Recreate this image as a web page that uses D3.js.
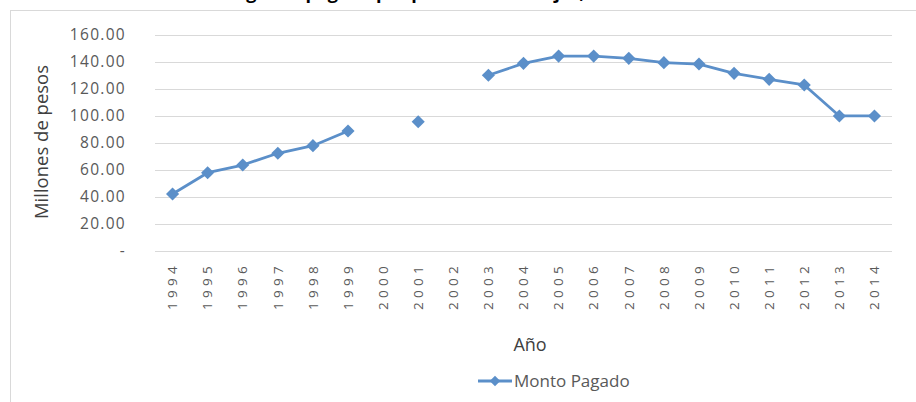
<!DOCTYPE html>
<html>
<head>
<meta charset="utf-8">
<script src="https://cdn.jsdelivr.net/npm/d3@7"></script>
<style>
  body { margin: 0; background: #fff; }
  svg { display: block; font-family: "Open Sans", sans-serif; }
</style>
</head>
<body>
<svg id="chart" width="916" height="402"></svg>
<script>
// chart data
var years = ["1994","1995","1996","1997","1998","1999","2000","2001","2002","2003","2004",
             "2005","2006","2007","2008","2009","2010","2011","2012","2013","2014"];
var montoPagado = [42.2, 57.9, 63.6, 72.3, 77.9, 88.8, null, 95.6, null, 130.0, 138.8,
                   144.2, 144.2, 142.5, 139.3, 138.3, 131.4, 127.0, 122.8, 99.9, 99.9];
var yTicks = [0, 20, 40, 60, 80, 100, 120, 140, 160];

var blue = "#5b8fc9", grey = "#595959";
var svg = d3.select("#chart");

// chart frame
svg.append("rect")
    .attr("x", 10.5).attr("y", 10.5).attr("width", 930).attr("height", 420)
    .attr("fill", "#fff").attr("stroke", "#d9d9d9");

// title (cut off by the top edge, only descenders show)
svg.append("text")
    .attr("x", 430).attr("y", -1.5)
    .attr("text-anchor", "middle")
    .attr("font-weight", "bold").attr("font-size", 18)
    .text("Monto global pagado por pensiones de vejez, 1994-2014");

var x = d3.scaleBand().domain(years).range([155, 892]);
var y = d3.scaleLinear().domain([0, 160]).range([251, 34.7]);

// grid lines
svg.append("g").selectAll("line").data(yTicks).enter().append("line")
    .attr("x1", 155).attr("x2", 892)
    .attr("y1", d => Math.round(y(d)) + 0.5).attr("y2", d => Math.round(y(d)) + 0.5)
    .attr("stroke", "#d9d9d9").attr("stroke-width", 1);

// y axis labels
var yAxis = svg.append("g")
    .attr("transform", "translate(130,0)")
    .call(d3.axisLeft(y).tickValues(yTicks).tickSize(0)
          .tickFormat(d => d === 0 ? "-" : d3.format(".2f")(d)));
yAxis.select(".domain").remove();
yAxis.selectAll("text")
    .attr("font-family", "Open Sans").attr("font-size", 15.5)
    .attr("letter-spacing", 1.3).attr("fill", grey).attr("dx", -1);

// x axis labels, rotated
var xAxis = svg.append("g")
    .attr("transform", "translate(0,262)")
    .call(d3.axisBottom(x).tickSize(0));
xAxis.select(".domain").remove();
xAxis.selectAll("text")
    .attr("font-family", "Open Sans").attr("font-size", 13.5)
    .attr("letter-spacing", 4.3).attr("fill", grey)
    .attr("text-anchor", "end").attr("dy", "0.35em").attr("dx", 0).attr("y", 0)
    .attr("transform", "rotate(-90)");

// axis titles
svg.append("text")
    .attr("transform", "translate(48,142) rotate(-90)")
    .attr("text-anchor", "middle").attr("font-size", 18.5).attr("fill", "#404040")
    .text("Millones de pesos");
svg.append("text")
    .attr("x", 530).attr("y", 351)
    .attr("text-anchor", "middle").attr("font-size", 18).attr("fill", "#404040")
    .text("Año");

// series
var pts = years.map((yr, i) => ({ yr: yr, v: montoPagado[i] }));
var line = d3.line()
    .defined(d => d.v !== null)
    .x(d => x(d.yr) + x.bandwidth() / 2)
    .y(d => y(d.v));
svg.append("path").datum(pts)
    .attr("d", line).attr("fill", "none")
    .attr("stroke", blue).attr("stroke-width", 2.8).attr("stroke-linejoin", "round");

var diamond = d3.symbol().type(d3.symbolDiamond2).size(110);
svg.append("g").selectAll("path").data(pts.filter(d => d.v !== null)).enter().append("path")
    .attr("d", diamond)
    .attr("transform", d => "translate(" + (x(d.yr) + x.bandwidth() / 2) + "," + y(d.v) + ")")
    .attr("fill", blue);

// legend
var leg = svg.append("g").attr("transform", "translate(478,381)");
leg.append("line").attr("x1", 0).attr("x2", 34).attr("y1", 0).attr("y2", 0)
    .attr("stroke", blue).attr("stroke-width", 2.8);
leg.append("path").attr("d", d3.symbol().type(d3.symbolDiamond2).size(70))
    .attr("transform", "translate(17,0)").attr("fill", blue);
leg.append("text").attr("x", 36).attr("y", 0).attr("dy", "0.35em")
    .attr("font-size", 17).attr("fill", grey)
    .text("Monto Pagado");
</script>
</body>
</html>
